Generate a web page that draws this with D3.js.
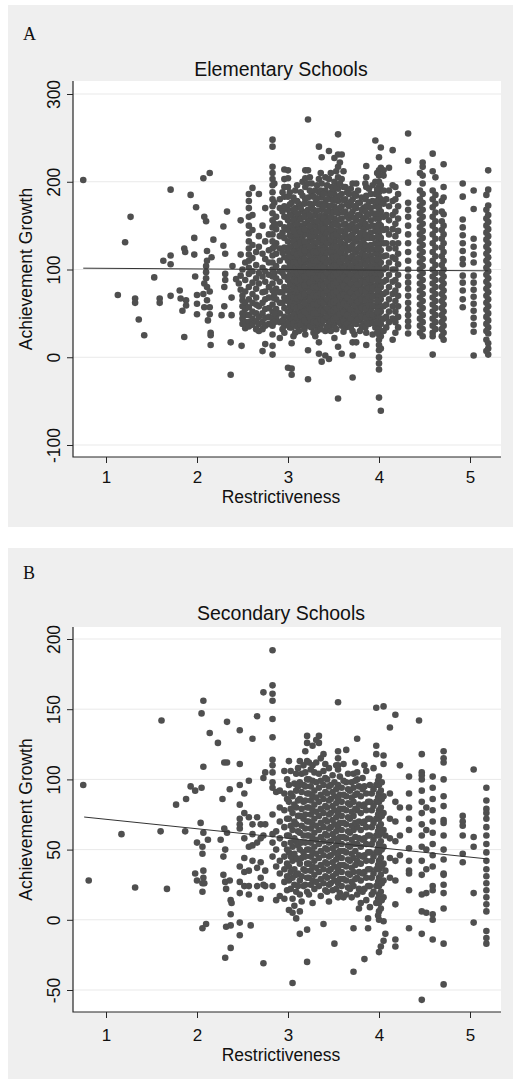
<!DOCTYPE html>
<html>
<head>
<meta charset="utf-8">
<script src="https://cdn.jsdelivr.net/npm/d3@7"></script>
<style>
body { margin: 0; background: #fff; }
svg { display: block; }
</style>
</head>
<body>
<svg width="513" height="1080"></svg>
<script>
var dotcolor = "#4f4f4f",
	axiscolor = "#262626",
	gridcolor = "#e9e9e9",
	bgcolor = "#efefef",
	sans = "'Liberation Sans', Arial, sans-serif",
	serif = "'Liberation Serif', 'Times New Roman', serif";

var xTicks = [1, 2, 3, 4, 5];
var elemYTicks = [-100, 0, 100, 200, 300];
var secYTicks = [-50, 0, 50, 100, 150, 200];

// Elementary schools: scattered single points
var elemPoints = [[0.75,202],[1.13,71],[1.21,131],[1.27,160],[1.32,67],[1.32,62],[1.36,43],[1.42,25],[1.53,91],
	[1.59,67],[1.59,62],[1.63,110],[1.71,191],[1.71,116],[1.71,106],[1.71,70],[1.81,76],[1.82,67],[1.84,53],
	[1.88,65],[1.88,59],[1.86,124],[1.87,120],[1.86,23],[1.93,185],[1.97,136],[1.97,117],[1.99,171],[1.98,92],
	[2.0,71],[2.0,61],[2.0,49],[2.07,204],[2.14,210],[2.08,160],[2.1,155],[2.11,121],[2.11,110],[2.1,104],
	[2.1,97],[2.1,90],[2.08,84],[2.11,80],[2.14,75],[2.07,72],[2.11,65],[2.14,57],[2.08,57],[2.14,49],
	[2.12,42],[2.15,28],[2.15,25],[2.15,14],[2.16,114],[2.18,134],[2.29,149],[2.29,127],[2.31,118],[2.33,166],
	[2.31,95],[2.31,88],[2.3,80],[2.3,58],[2.27,48],[2.38,48],[2.38,68],[2.39,104],[2.37,17],[2.37,-20],
	[2.48,156],[2.48,117],[2.48,93],[2.48,77],[2.49,13],[2.43,89],[2.46,84]];

// Elementary schools: vertical stripes [restrictiveness, [growth values]]
var elemCols = [
	[2.50, [65, 58, 50, 44, 38, 100, 70]],
	[2.53, [75, 62, 55, 48, 40, 33, 108, 88]],
	[2.57, [186, 178, 170, 160, 150, 141, 132, 124, 117, 110, 102, 95, 80, 66, 57, 48, 40, 35]],
	[2.61, [193, 162, 145, 128, 113, 98, 85, 72, 62, 52, 44, 37]],
	[2.65, [120, 105, 90, 78, 68, 60, 50, 41, 32]],
	[2.68, [186, 138, 126, 96, 84, 58, 46, 38, 30]],
	[2.72, [150, 118, 102, 92, 74, 62, 50, 40, 32, 7]],
	[2.75, [170, 132, 112, 98, 86, 75, 66, 55, 45, 36, 15]],
	[2.79, [140, 122, 108, 94, 80, 68, 56, 46, 38]],
	[2.83, [248, 240, 217, 210, 203, 196, 188, 180, 172, 164, 156, 148, 140, 132, 124, 116, 108, 100, 92, 84, 76, 68, 60, 52, 44, 36, 26, 13, 3]],
	[2.87, [160, 146, 130, 118, 104, 90, 78, 66, 55, 45]],
	[2.91, [180, 170, 152, 138, 124, 110, 98, 86, 74, 62, 50, 40, 22]],
	[2.96, [214, 203, 194, 183, 172, 160, 148, 136, 125, 114, 102, 92, 80, 68, 56, 46, 36, 28]],
	[3.00, [213, 204, 194, 183, 168, 156, 145, 132, 120, 110, 100, 88, 76, 64, 52, 40, -12]],
	[3.04, [176, 162, 150, 138, 126, 114, 104, 94, 84, 74, 64, 54, 44, 34, 16, -13, -20]],
	[3.08, [190, 170, 158, 146, 134, 122, 112, 102, 92, 82, 72, 62, 50, 40, 28]],
	[3.12, [175, 160, 148, 136, 124, 114, 104, 94, 84, 74, 64, 52, 42, 30]],
	[3.16, [200, 184, 166, 150, 138, 126, 116, 106, 96, 86, 76, 66, 56, 46, 36]],
	[3.19, [213, 204, 194, 180, 164, 152, 140, 128, 118, 108, 98, 88, 78, 68, 58, 48, 38, 26]],
	[3.22, [271, 213, 198, 182, 168, 156, 144, 132, 120, 110, 100, 90, 80, 70, 60, 50, 40, 8, -25]],
	[3.26, [198, 186, 172, 160, 148, 136, 124, 114, 104, 94, 84, 74, 64, 54, 44, 34]],
	[3.30, [190, 176, 162, 150, 138, 126, 116, 106, 96, 86, 76, 66, 56, 46, 36, 24]],
	[3.34, [240, 203, 188, 174, 160, 148, 136, 124, 114, 104, 94, 84, 74, 64, 54, 44, 34, 17, 4]],
	[3.37, [228, 198, 182, 168, 154, 142, 130, 118, 108, 98, 88, 78, 68, 58, 48, 38, -5]],
	[3.41, [205, 190, 176, 162, 150, 138, 126, 114, 104, 94, 84, 74, 64, 54, 44, 30, 2]],
	[3.45, [235, 203, 186, 172, 158, 146, 134, 122, 110, 100, 90, 80, 70, 60, 50, 40, -2]],
	[3.48, [194, 180, 166, 152, 140, 128, 116, 106, 96, 86, 76, 66, 56, 46, 36]],
	[3.51, [227, 200, 186, 172, 158, 144, 132, 120, 108, 98, 88, 78, 68, 58, 48, 38, 22]],
	[3.55, [254, 231, 217, 205, 192, 178, 164, 150, 138, 126, 114, 102, 92, 82, 72, 62, 52, 42, 12, -47]],
	[3.59, [231, 203, 186, 172, 158, 144, 130, 118, 106, 96, 86, 76, 66, 56, 46, 36, 4]],
	[3.63, [194, 180, 166, 152, 140, 128, 116, 104, 94, 84, 74, 64, 54, 44, 34]],
	[3.67, [186, 172, 158, 146, 134, 122, 110, 100, 90, 80, 70, 60, 50, 40]],
	[3.71, [198, 180, 166, 152, 140, 128, 116, 104, 94, 84, 74, 64, 54, 44, 30, 17, 2, -23]],
	[3.75, [198, 184, 170, 156, 144, 132, 120, 108, 98, 88, 78, 68, 58, 48, 38, 17]],
	[3.79, [176, 162, 150, 138, 126, 114, 102, 92, 82, 72, 62, 52, 42, 30]],
	[3.83, [170, 158, 146, 134, 122, 110, 98, 88, 78, 68, 58, 48, 38]],
	[3.86, [218, 205, 194, 184, 172, 160, 148, 136, 124, 112, 100, 90, 80, 70, 60, 50, 40, 28, 14]],
	[3.91, [186, 170, 156, 142, 128, 116, 104, 94, 84, 74, 64, 54, 44]],
	[3.96, [247, 200, 186, 172, 158, 144, 130, 118, 106, 94, 82, 70, 58, 46, 34]],
	[4.00, [228, 213, 207, 200, 194, 188, 182, 176, 170, 164, 158, 152, 146, 140, 134, 128, 122, 116, 110, 104, 98, 92, 86, 80, 74, 68, 62, 56, 50, 44, 38, 32, 26, 20, 14, 8, 0, -7, -14, -46]],
	[4.02, [239, 216, 196, 180, 166, 150, 136, 122, 108, 94, 80, 66, 52, 38, 24, 10, -61]],
	[4.05, [213, 207, 190, 175, 160, 145, 130, 115, 100, 86, 72, 58, 44, 30]],
	[4.08, [180, 162, 146, 130, 116, 102, 88, 74, 60, 46, 34]],
	[4.11, [216, 190, 172, 156, 140, 124, 108, 94, 80, 66, 52, 40]],
	[4.15, [236, 196, 178, 162, 146, 130, 114, 100, 86, 72, 58, 44, 20]],
	[4.18, [194, 180, 166, 152, 138, 124, 112, 100, 88, 76, 64, 52, 40, 28]],
	[4.32, [255, 224, 199, 176, 168, 160, 150, 140, 130, 120, 110, 100, 92, 85, 78, 70, 62, 55, 48, 41, 35, 27]],
	[4.48, [222, 217, 207, 198, 186, 176, 168, 160, 152, 144, 136, 128, 120, 112, 104, 96, 88, 80, 72, 64, 56, 48, 40, 32, 24]],
	[4.59, [232, 212, 190, 180, 171, 160, 150, 140, 130, 120, 110, 100, 92, 84, 76, 68, 60, 52, 44, 36, 28, 24, 3]],
	[4.71, [220, 194, 182, 163, 150, 140, 130, 120, 110, 100, 92, 84, 76, 68, 60, 52, 44, 36, 28, 20]],
	[4.92, [198, 183, 157, 148, 139, 130, 121, 112, 106, 93, 85, 76, 66, 57]],
	[5.04, [190, 169, 135, 126, 117, 108, 93, 85, 77, 69, 61, 53, 45, 37, 29, 2]],
	[5.20, [213, 191, 173, 162, 154, 146, 138, 130, 122, 114, 106, 98, 90, 82, 74, 66, 58, 50, 42, 34, 27, 16, 10, 3]]
];
// Elementary schools: points packed between the stripes
var elemFillCols = [
	[2.85, [198, 176, 152, 126, 96, 72, 50, 40]],
	[2.94, [188, 166, 142, 119, 96, 74, 62, 42, 32]],
	[3.02, [188, 174, 162, 150, 139, 126, 115, 105, 94, 82, 70, 58, 46, 34]],
	[3.06, [182, 168, 156, 144, 132, 120, 108, 98, 88, 78, 68, 58, 48, 38, 24]],
	[3.10, [196, 178, 164, 152, 140, 128, 117, 107, 97, 87, 77, 67, 56, 45, 35]],
	[3.14, [188, 170, 157, 143, 131, 119, 109, 99, 89, 79, 69, 58, 47, 37]],
	[3.18, [175, 160, 146, 132, 122, 112, 102, 92, 82, 72, 62, 52, 42, 32]],
	[3.24, [205, 190, 175, 162, 150, 138, 126, 116, 105, 95, 85, 75, 65, 55, 45, 35]],
	[3.28, [183, 168, 155, 143, 131, 120, 110, 100, 90, 80, 70, 60, 50, 40, 28]],
	[3.32, [196, 181, 167, 155, 143, 131, 120, 110, 100, 90, 80, 70, 60, 50, 40, 30]],
	[3.36, [210, 190, 175, 161, 148, 136, 124, 113, 103, 93, 83, 73, 63, 53, 43, 32]],
	[3.39, [186, 172, 158, 146, 134, 122, 112, 102, 92, 82, 72, 62, 52, 42]],
	[3.43, [196, 180, 166, 154, 142, 130, 119, 108, 96, 86, 76, 66, 56, 46, 35]],
	[3.47, [210, 187, 173, 160, 146, 134, 122, 111, 101, 91, 81, 71, 61, 51, 41, 30]],
	[3.50, [192, 179, 165, 151, 138, 126, 114, 103, 93, 83, 73, 63, 53, 43]],
	[3.53, [212, 194, 180, 166, 152, 140, 126, 115, 104, 95, 85, 75, 65, 55, 45, 32]],
	[3.57, [222, 198, 184, 170, 157, 144, 132, 120, 109, 99, 89, 79, 69, 59, 49, 39]],
	[3.61, [212, 194, 179, 165, 151, 137, 124, 112, 101, 91, 81, 71, 61, 51, 41, 29]],
	[3.65, [188, 174, 160, 146, 134, 122, 110, 98, 88, 78, 68, 58, 48, 38]],
	[3.69, [192, 177, 163, 150, 138, 126, 114, 104, 94, 84, 74, 64, 54, 44, 34]],
	[3.73, [186, 172, 159, 146, 134, 122, 110, 99, 89, 79, 69, 59, 49, 39, 26]],
	[3.77, [190, 176, 162, 149, 136, 124, 113, 103, 93, 83, 73, 63, 53, 43]],
	[3.81, [182, 168, 155, 142, 130, 118, 107, 96, 86, 76, 66, 56, 46, 35]],
	[3.85, [198, 180, 166, 152, 140, 128, 116, 105, 95, 85, 75, 65, 55, 45, 34]],
	[3.89, [192, 177, 163, 149, 136, 122, 110, 99, 89, 79, 69, 59, 49, 38]],
	[3.93, [196, 178, 164, 150, 136, 123, 111, 100, 89, 79, 69, 59, 49, 39, 26]],
	[3.98, [210, 191, 178, 164, 150, 137, 124, 112, 100, 88, 76, 64, 52, 40, 28]],
	[4.21, [186, 172, 158, 144, 130, 118, 106, 94, 82, 70, 58, 46, 34]],
	[4.45, [210, 190, 180, 172, 164, 156, 148, 140, 132, 124, 116, 108, 100, 92, 84, 76, 68, 60, 52, 44, 36, 28]],
	[4.62, [205, 185, 175, 165, 155, 145, 135, 125, 115, 105, 96, 88, 80, 72, 64, 56, 48, 40, 32]],
	[4.69, [178, 166, 155, 145, 135, 125, 115, 105, 96, 88, 80, 72, 64, 56, 48, 40, 32, 24]],
	[5.18, [185, 168, 158, 150, 142, 134, 126, 118, 110, 102, 94, 86, 78, 70, 62, 54, 46, 38, 30, 20, 7]]
];
var elemFit = [[0.75, 101.5], [5.2, 98.5]];

// Secondary schools
var secPoints = [[0.75,96],[0.81,28],[1.17,61],[1.32,23],[1.61,142],[1.6,63],[1.67,22],[1.77,82],[1.88,86],
	[1.87,63],[1.93,95],[1.98,92],[2.05,94],[2.07,156],[2.05,147],[2.07,109],[2.14,133],[2.23,126],[2.04,69],
	[2.07,62],[2.0,55],[2.12,57],[2.06,52],[2.06,47],[1.98,33],[2.0,28],[2.06,26],[2.07,35],[2.07,30],
	[2.08,26],[2.06,20],[2.06,-6],[2.1,-3],[2.28,86],[2.36,93],[2.33,141],[2.3,112],[2.33,112],[2.3,65],
	[2.33,62],[2.26,57],[2.31,50],[2.29,45],[2.29,32],[2.31,27],[2.32,22],[2.36,28],[2.37,14],[2.38,12],
	[2.37,4],[2.32,-5],[2.37,-4],[2.37,-20],[2.31,-27]];

var secCols = [
	[2.47, [135, 111, 96, 82, 72, 65, 68, 38, 27, 19, -2, -11]],
	[2.52, [90, 76, 58, 44, 34, 24]],
	[2.57, [99, 73, 52, 35, 24, 18]],
	[2.59, [-4]],
	[2.61, [129, 68, 61, 53, 42]],
	[2.66, [145, 73, 55, 37, 24]],
	[2.70, [68, 58, 41, 30, 15]],
	[2.73, [162, 101, 60, 25, -31]],
	[2.75, [105, 68, 35, 24]],
	[2.83, [192, 167, 161, 156, 143, 130, 114, 110, 105, 98, 94, 75, 61, 55, 45, 24]],
	[2.87, [91, 63, 50, 38, 14]],
	[2.91, [92, 80, 70, 58, 42, 33, 17]],
	[2.96, [106, 90, 78, 66, 54, 45, 36, 27, 15]],
	[3.01, [113, 96, 84, 72, 60, 48, 38, 28, 7]],
	[3.05, [88, 76, 64, 52, 42, 30, 15, 5, -45]],
	[3.09, [104, 92, 80, 68, 56, 44, 32, 20, 1]],
	[3.13, [113, 98, 86, 74, 62, 50, 40, 28, 18, 6, -10]],
	[3.17, [110, 96, 84, 72, 60, 48, 36, 24]],
	[3.21, [131, 126, 113, 100, 90, 80, 70, 60, 50, 40, 30, 20, -30, -7]],
	[3.25, [107, 95, 85, 75, 65, 55, 45, 35, 25]],
	[3.29, [105, 92, 82, 72, 62, 52, 42, 32, 22]],
	[3.34, [131, 126, 104, 94, 84, 74, 64, 54, 44, 34, 24]],
	[3.39, [118, 106, 96, 86, 76, 66, 56, 46, 36, 26, -3]],
	[3.43, [100, 90, 80, 70, 60, 50, 40, 30, 20]],
	[3.47, [96, 86, 76, 66, 56, 46, 36, 26]],
	[3.51, [98, 88, 78, 68, 58, 48, 38, 28, -17]],
	[3.55, [155, 120, 115, 110, 107, 96, 86, 76, 66, 56, 46, 36, 26, 16]],
	[3.59, [94, 84, 74, 64, 54, 44, 34, 24]],
	[3.64, [121, 98, 88, 78, 68, 58, 48, 38, 28, 18]],
	[3.68, [92, 82, 72, 62, 52, 42, 32, 22]],
	[3.72, [104, 94, 84, 74, 64, 54, 44, 34, 24, -6, -37]],
	[3.76, [129, 105, 100, 90, 78, 66, 54, 42, 30, 18]],
	[3.80, [88, 76, 64, 52, 40, 28, 12]],
	[3.84, [110, 95, 82, 70, 58, 46, 34, 22, -28]],
	[3.88, [84, 72, 60, 48, 36, 24, 1, -6]],
	[3.92, [90, 78, 66, 54, 42, 30, 18]],
	[3.97, [151, 124, 118, 96, 84, 72, 60, 48, 36, 24, 12]],
	[4.00, [102, 96, 90, 84, 78, 72, 66, 60, 54, 48, 42, 36, 30, 24, 18, 12, 6, 0, -23]],
	[4.02, [92, 80, 68, 56, 44, 32, 20, 8, -19]],
	[4.05, [152, 117, 111, 88, 76, 64, 52, 40, 28, 16, -1, -15]],
	[4.07, [60, 35, -10]],
	[4.12, [137, 90, 72, 58, 44, 30]],
	[4.18, [146, 84, 70, 56, 42, 28, 11, -14, -19]],
	[4.23, [110, 80, 60, 46]],
	[4.33, [102, 90, 80, 72, 64, 51, 42, 35, 33, 21, -6]],
	[4.44, [142]],
	[4.47, [118, 105, 103, 100, 92, 84, 76, 68, 60, 52, 42, 32, 18, 6, -10, -57]],
	[4.52, [80, 64, 50, 36, 19, 5]],
	[4.59, [102, 94, 86, 78, 70, 62, 54, 46, 38, 24, 21, 4, 0, -14]],
	[4.71, [120, 115, 112, 100, 88, 81, 71, 69, 60, 50, 43, 33, 32, 25, 19, 8, -17, -46]],
	[4.92, [74, 70, 67, 60, 47, 41]],
	[5.04, [107, 59, 52, 19, -2]],
	[5.18, [94, 85, 79, 76, 72, 66, 60, 54, 48, 42, 36, 31, 26, 21, 16, 11, 6, -8, -13, -17]]
];
var secFillCols = [
	[2.99, [100, 86, 72, 60, 50, 40, 31, 21]],
	[3.03, [106, 90, 79, 67, 55, 45, 34, 22]],
	[3.07, [97, 82, 70, 58, 47, 36, 25, 10]],
	[3.11, [108, 95, 85, 74, 63, 53, 43, 33, 24]],
	[3.15, [104, 91, 79, 67, 55, 44, 31, 13]],
	[3.19, [120, 105, 95, 85, 75, 65, 55, 45, 35, 25]],
	[3.23, [112, 100, 90, 80, 70, 60, 50, 40, 30, 18]],
	[3.27, [124, 110, 99, 88, 78, 68, 58, 48, 38, 28, 12]],
	[3.31, [128, 112, 98, 87, 77, 67, 57, 47, 37, 27]],
	[3.36, [115, 99, 89, 79, 69, 59, 49, 39, 29, 17]],
	[3.41, [111, 101, 91, 81, 71, 61, 51, 41, 31, 21]],
	[3.45, [108, 95, 85, 75, 65, 55, 45, 35, 25, 13]],
	[3.49, [103, 91, 81, 71, 61, 51, 41, 31, 21]],
	[3.53, [110, 93, 83, 73, 63, 53, 43, 33, 22]],
	[3.57, [102, 89, 79, 69, 59, 49, 39, 29, 19]],
	[3.61, [111, 99, 89, 79, 69, 59, 49, 39, 29, 16]],
	[3.66, [104, 93, 83, 73, 63, 53, 43, 33, 23]],
	[3.70, [98, 87, 77, 67, 57, 47, 37, 27, 16]],
	[3.74, [112, 99, 89, 79, 69, 59, 49, 39, 29]],
	[3.78, [95, 82, 70, 58, 46, 34, 22, 8]],
	[3.82, [101, 93, 81, 69, 57, 45, 33, 20]],
	[3.86, [106, 90, 78, 66, 54, 42, 30, 14]],
	[3.90, [96, 84, 72, 60, 48, 36, 24, 9]],
	[3.94, [108, 93, 81, 69, 57, 45, 33, 20]],
	[3.99, [99, 87, 75, 63, 51, 39, 27, 15, 3]],
	[4.03, [98, 86, 74, 62, 50, 38, 26, 14]]
];
var secFit = [[0.76, 73.2], [5.2, 43.3]];

var svg = d3.select("svg");

function flatten(points, cols, fill) {
	var out = points.map(function(d) {
		return {x: d[0], y: d[1]};
	});
	cols.concat(fill).forEach(function(c) {
		c[1].forEach(function(v) {
			out.push({x: c[0], y: v});
		});
	});
	return out;
}

function drawPanel(p) {
	var g = svg.append("g");
	g.append("rect")
		.attr("x", 8).attr("y", p.bgTop)
		.attr("width", 505).attr("height", p.bgHeight)
		.attr("fill", bgcolor);
	g.append("text")
		.attr("x", 23).attr("y", p.letterY)
		.attr("font-family", serif)
		.attr("font-size", 18)
		.attr("fill", "#111")
		.text(p.letter);
	g.append("text")
		.attr("x", 281).attr("y", p.titleY)
		.attr("text-anchor", "middle")
		.attr("font-family", sans)
		.attr("font-size", 19.5)
		.attr("fill", "#111")
		.text(p.title);

	var x = d3.scaleLinear().domain([1, 5]).range([106, 470]);
	var y = d3.scaleLinear().domain(p.yDomain).range(p.yRange);

	g.append("rect")
		.attr("x", 73).attr("y", p.plotTop)
		.attr("width", 428).attr("height", p.plotBottom - p.plotTop)
		.attr("fill", "#fff");

	g.selectAll(".grid")
		.data(p.yTicks)
		.enter().append("line")
		.attr("x1", 73).attr("x2", 501)
		.attr("y1", function(d) { return y(d); })
		.attr("y2", function(d) { return y(d); })
		.attr("stroke", gridcolor)
		.attr("stroke-width", 1);

	g.selectAll(".dot")
		.data(p.data)
		.enter().append("circle")
		.attr("cx", function(d) { return x(d.x); })
		.attr("cy", function(d) { return y(d.y); })
		.attr("r", 3.3)
		.attr("fill", dotcolor);

	var line = d3.line()
		.x(function(d) { return x(d[0]); })
		.y(function(d) { return y(d[1]); });
	g.append("path")
		.datum(p.fit)
		.attr("fill", "none")
		.attr("stroke", "#333")
		.attr("stroke-width", 1)
		.attr("d", line);

	var left = g.append("g")
		.attr("transform", "translate(73,0)")
		.call(d3.axisLeft(y).tickValues(p.yTicks).tickSize(6).tickSizeOuter(0)
			.tickFormat(function(d) { return String(d); }));
	left.select(".domain").remove();
	left.selectAll("line").attr("stroke", axiscolor);
	left.selectAll("text")
		.attr("x", 0).attr("y", -13).attr("dy", 0)
		.attr("text-anchor", "middle")
		.attr("transform", "rotate(-90)")
		.attr("font-family", sans)
		.attr("font-size", 17.5)
		.attr("fill", "#111");

	var bot = g.append("g")
		.attr("transform", "translate(0," + p.plotBottom + ")")
		.call(d3.axisBottom(x).tickValues(xTicks).tickSize(6).tickSizeOuter(0)
			.tickFormat(function(d) { return String(d); }));
	bot.select(".domain").remove();
	bot.selectAll("line").attr("stroke", axiscolor);
	bot.selectAll("text")
		.attr("y", p.xLabelOffset).attr("dy", 0)
		.attr("font-family", sans)
		.attr("font-size", 17)
		.attr("fill", "#111");

	// frame lines (left and bottom)
	g.append("path")
		.attr("d", "M73," + p.plotTop + "V" + p.plotBottom + "H501")
		.attr("fill", "none")
		.attr("stroke", axiscolor)
		.attr("stroke-width", 1.2);

	g.append("text")
		.attr("x", 281).attr("y", p.xTitleY)
		.attr("text-anchor", "middle")
		.attr("font-family", sans)
		.attr("font-size", 17.5)
		.attr("fill", "#111")
		.text("Restrictiveness");
	g.append("text")
		.attr("transform", "translate(32," + ((p.plotTop + p.plotBottom) / 2) + ") rotate(-90)")
		.attr("text-anchor", "middle")
		.attr("font-family", sans)
		.attr("font-size", 17.5)
		.attr("fill", "#111")
		.text("Achievement Growth");
}

drawPanel({
	letter: "A", title: "Elementary Schools",
	bgTop: 5, bgHeight: 522, letterY: 40, titleY: 76,
	plotTop: 81, plotBottom: 457,
	yDomain: [-100, 300], yRange: [445, 94], yTicks: elemYTicks,
	xLabelOffset: 26, xTitleY: 503,
	data: flatten(elemPoints, elemCols, elemFillCols), fit: elemFit
});
drawPanel({
	letter: "B", title: "Secondary Schools",
	bgTop: 548, bgHeight: 531, letterY: 579, titleY: 620,
	plotTop: 627, plotBottom: 1012,
	yDomain: [-50, 200], yRange: [990, 639], yTicks: secYTicks,
	xLabelOffset: 29, xTitleY: 1061,
	data: flatten(secPoints, secCols, secFillCols), fit: secFit
});
</script>
</body>
</html>
